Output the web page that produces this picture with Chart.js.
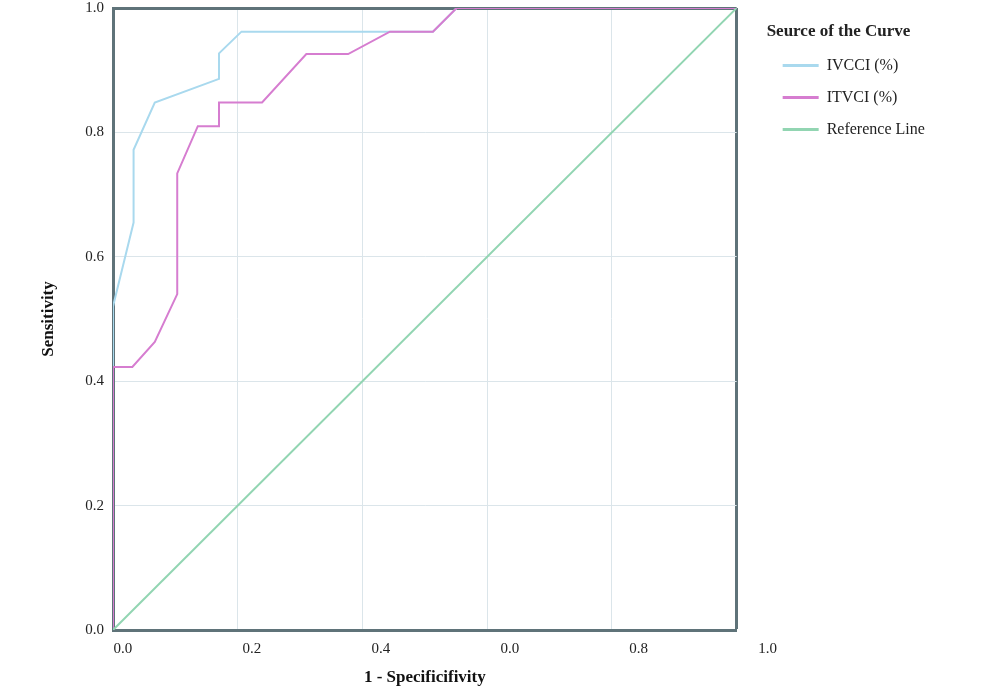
<!DOCTYPE html>
<html>
<head>
<meta charset="utf-8">
<script src="https://cdn.jsdelivr.net/npm/chart.js@4/dist/chart.umd.min.js"></script>
<style>
  html, body { margin: 0; padding: 0; background: #fff; }
  canvas { display: block; }
</style>
</head>
<body>
<canvas id="roc" width="1000" height="695"></canvas>
<script>
// 1 - specificity / sensitivity pairs
const ivcciX = [0, 0, 0.033, 0.033, 0.067, 0.170, 0.170, 0.206, 0.444, 0.513, 0.551, 1];
const ivcciY = [0, 0.52, 0.655, 0.772, 0.848, 0.886, 0.927, 0.962, 0.962, 0.962, 1, 1];

const itvciX = [0, 0, 0.031, 0.067, 0.103, 0.103, 0.136, 0.170, 0.170, 0.239, 0.310, 0.377, 0.444, 0.513, 0.551, 1];
const itvciY = [0, 0.423, 0.423, 0.463, 0.540, 0.734, 0.810, 0.810, 0.848, 0.848, 0.926, 0.926, 0.962, 0.962, 1, 1];

const refX = [0, 1];
const refY = [0, 1];

const seriesNames = ["IVCCI (%)", "ITVCI (%)", "Reference Line"];

// tick labels as printed (the fourth one really says 0.0)
const xTickValues = [0, 0.2, 0.4, 0.6, 0.8, 1.0];
const xTickLabels = ["0.0", "0.2", "0.4", "0.0", "0.8", "1.0"];

const color = ["#a9d9ee", "#d67dd0", "#92d5b2"];
const frame = "#5f7379";
const grid = "#dbe5ea";
const serif = "'Liberation Serif', 'DejaVu Serif', serif";

function points(xs, ys) {
  return xs.map((x, i) => ({ x, y: ys[i] }));
}

const edge = (ctx) => (ctx.tick && ctx.tick.value === 1 ? frame : grid);
const edgeWidth = (ctx) => (ctx.tick && ctx.tick.value === 1 ? 3 : 1);

// legend items are indented by their padding, give the box room for it
const widenLegend = {
  id: "widenLegend",
  beforeLayout(chart) {
    const lg = chart.legend;
    if (lg && !lg._widened) {
      const fit = lg.fit;
      lg.fit = function () {
        fit.call(this);
        this.width += 10;
      };
      lg._widened = true;
    }
  },
};

const ctx = document.getElementById("roc");

new Chart(ctx, {
  type: "scatter",
  data: {
    datasets: [
      { label: seriesNames[0], data: points(ivcciX, ivcciY), order: 3 },
      { label: seriesNames[1], data: points(itvciX, itvciY), order: 2 },
      { label: seriesNames[2], data: points(refX, refY), order: 1 },
    ].map((d, i) => ({
      ...d,
      showLine: true,
      borderColor: color[i],
      backgroundColor: color[i],
      borderWidth: 2,
      pointRadius: 0,
      tension: 0,
    })),
  },
  plugins: [widenLegend],
  options: {
    responsive: false,
    animation: false,
    layout: { padding: { left: 0, right: 68, top: 8, bottom: 0 } },
    plugins: {
      tooltip: { enabled: false },
      legend: {
        position: "right",
        align: "start",
        title: {
          display: true,
          text: "Seurce of the Curve",
          position: "start",
          color: "#222",
          font: { family: serif, size: 17, weight: "bold" },
          padding: { top: 15, bottom: -2 },
        },
        labels: {
          color: "#222",
          font: { family: serif, size: 16 },
          boxWidth: 36,
          boxHeight: 3,
          padding: 16,
          sort: (a, b) => a.datasetIndex - b.datasetIndex,
          generateLabels(chart) {
            return Chart.defaults.plugins.legend.labels
              .generateLabels(chart)
              .map((l) => ({ ...l, lineWidth: 0 }));
          },
        },
      },
    },
    scales: {
      x: {
        type: "linear",
        position: "bottom",
        min: 0,
        max: 1,
        ticks: { stepSize: 0.2, display: false },
        grid: { color: edge, lineWidth: edgeWidth, drawTicks: false },
        border: { color: frame, width: 3 },
        afterFit(s) {
          s.height = 0;
          s.paddingLeft = s.paddingRight = 0;
        },
      },
      x2: {
        type: "linear",
        position: "bottom",
        min: -0.0155,
        max: 0.952,
        bounds: "data",
        grid: { display: false, drawTicks: false },
        border: { display: false },
        ticks: {
          autoSkip: false,
          maxRotation: 0,
          padding: 10,
          color: "#222",
          font: { family: serif, size: 15 },
          callback: (v, i) => xTickLabels[i],
        },
        afterBuildTicks(s) { s.ticks = xTickValues.map((value) => ({ value })); },
        title: {
          display: true,
          text: "1 - Specificifivity",
          color: "#111",
          font: { family: serif, size: 17, weight: "bold" },
          padding: { top: 0, bottom: 7 },
        },
        afterFit(s) {
          s.height = 65;
          s.paddingLeft = s.paddingRight = 0;
        },
      },
      y: {
        min: 0,
        max: 1,
        ticks: {
          stepSize: 0.2,
          padding: 9,
          color: "#222",
          font: { family: serif, size: 15 },
          callback: (v) => v.toFixed(1),
        },
        grid: { color: edge, lineWidth: edgeWidth, drawTicks: false },
        border: { color: frame, width: 3 },
        title: {
          display: true,
          text: "Sensitivity",
          color: "#111",
          font: { family: serif, size: 17, weight: "bold" },
          padding: { top: 38, bottom: 0 },
        },
        afterFit(s) {
          s.width = 113;
          s.paddingTop = s.paddingBottom = 0;
        },
      },
      y2: {
        position: "right",
        grid: { display: false, drawTicks: false },
        border: { display: false },
        ticks: { display: false },
        afterFit(s) {
          s.width = 30;
          s.paddingTop = s.paddingBottom = 0;
        },
      },
    },
  },
});
</script>
</body>
</html>
